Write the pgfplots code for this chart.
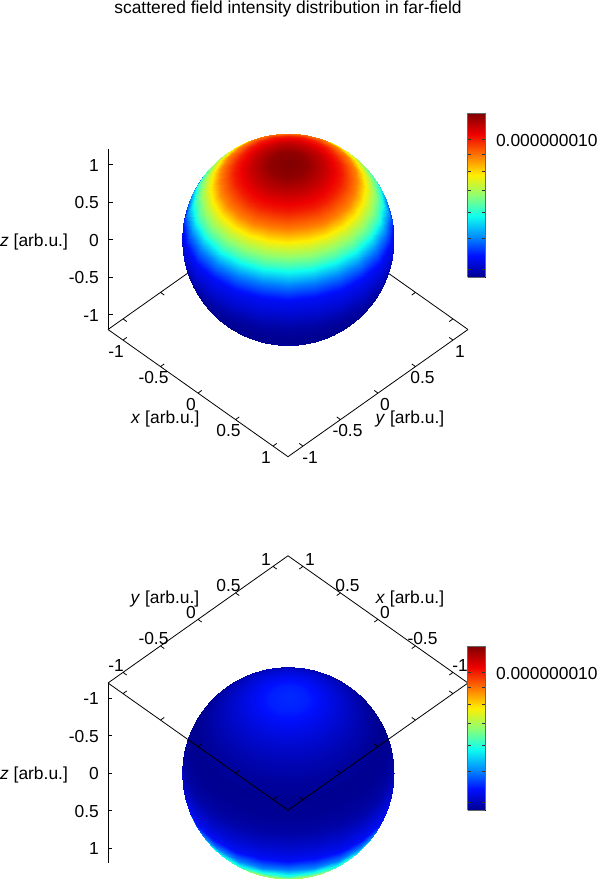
\documentclass[border=0pt]{standalone}
\usepackage{fontspec}
\setmainfont{Liberation Sans}
\usepackage{pgfplots}
\usepackage{pgfplotstable}
\pgfplotsset{compat=1.18}
\pgfplotsset{colormap={gjet}{rgb255=(0,0,144) rgb255=(0,15,255) rgb255=(0,144,255) rgb255=(15,255,238) rgb255=(144,255,112) rgb255=(255,238,0) rgb255=(255,112,0) rgb255=(238,0,0) rgb255=(127,0,0)}}
\newcommand{\lab}{\fontsize{17.4}{20}\selectfont}

% unit sphere, rings of polar angle 0,10,...,180 and 25 points each; l = log10(intensity)
\pgfplotstableread{
x y z l
0 0 1 -7.92
0 0 1 -7.92
0 0 1 -7.92
0 0 1 -7.92
0 0 1 -7.92
0 0 1 -7.92
0 0 1 -7.92
0 0 1 -7.92
0 0 1 -7.92
0 0 1 -7.92
0 0 1 -7.92
0 0 1 -7.92
0 0 1 -7.92
0 0 1 -7.92
0 0 1 -7.92
0 0 1 -7.92
0 0 1 -7.92
0 0 1 -7.92
0 0 1 -7.92
0 0 1 -7.92
0 0 1 -7.92
0 0 1 -7.92
0 0 1 -7.92
0 0 1 -7.92
0 0 1 -7.92
0.174 0 0.985 -7.93
0.168 0.045 0.985 -7.93
0.150 0.087 0.985 -7.93
0.123 0.123 0.985 -7.93
0.087 0.150 0.985 -7.93
0.045 0.168 0.985 -7.93
0 0.174 0.985 -7.93
-0.045 0.168 0.985 -7.93
-0.087 0.150 0.985 -7.93
-0.123 0.123 0.985 -7.93
-0.150 0.087 0.985 -7.93
-0.168 0.045 0.985 -7.93
-0.174 0 0.985 -7.93
-0.168 -0.045 0.985 -7.93
-0.150 -0.087 0.985 -7.93
-0.123 -0.123 0.985 -7.93
-0.087 -0.150 0.985 -7.93
-0.045 -0.168 0.985 -7.93
0 -0.174 0.985 -7.93
0.045 -0.168 0.985 -7.93
0.087 -0.150 0.985 -7.93
0.123 -0.123 0.985 -7.93
0.150 -0.087 0.985 -7.93
0.168 -0.045 0.985 -7.93
0.174 0 0.985 -7.93
0.342 0 0.940 -7.96
0.330 0.089 0.940 -7.96
0.296 0.171 0.940 -7.96
0.242 0.242 0.940 -7.96
0.171 0.296 0.940 -7.96
0.089 0.330 0.940 -7.96
0 0.342 0.940 -7.96
-0.089 0.330 0.940 -7.96
-0.171 0.296 0.940 -7.96
-0.242 0.242 0.940 -7.96
-0.296 0.171 0.940 -7.96
-0.330 0.089 0.940 -7.96
-0.342 0 0.940 -7.96
-0.330 -0.089 0.940 -7.96
-0.296 -0.171 0.940 -7.96
-0.242 -0.242 0.940 -7.96
-0.171 -0.296 0.940 -7.96
-0.089 -0.330 0.940 -7.96
0 -0.342 0.940 -7.96
0.089 -0.330 0.940 -7.96
0.171 -0.296 0.940 -7.96
0.242 -0.242 0.940 -7.96
0.296 -0.171 0.940 -7.96
0.330 -0.089 0.940 -7.96
0.342 0 0.940 -7.96
0.500 0 0.866 -7.998
0.483 0.129 0.866 -7.998
0.433 0.250 0.866 -7.998
0.354 0.354 0.866 -7.998
0.250 0.433 0.866 -7.998
0.129 0.483 0.866 -7.998
0 0.500 0.866 -7.998
-0.129 0.483 0.866 -7.998
-0.250 0.433 0.866 -7.998
-0.354 0.354 0.866 -7.998
-0.433 0.250 0.866 -7.998
-0.483 0.129 0.866 -7.998
-0.500 0 0.866 -7.998
-0.483 -0.129 0.866 -7.998
-0.433 -0.250 0.866 -7.998
-0.354 -0.354 0.866 -7.998
-0.250 -0.433 0.866 -7.998
-0.129 -0.483 0.866 -7.998
0 -0.500 0.866 -7.998
0.129 -0.483 0.866 -7.998
0.250 -0.433 0.866 -7.998
0.354 -0.354 0.866 -7.998
0.433 -0.250 0.866 -7.998
0.483 -0.129 0.866 -7.998
0.500 0 0.866 -7.998
0.643 0 0.766 -8.055
0.621 0.166 0.766 -8.055
0.557 0.321 0.766 -8.055
0.455 0.455 0.766 -8.055
0.321 0.557 0.766 -8.055
0.166 0.621 0.766 -8.055
0 0.643 0.766 -8.055
-0.166 0.621 0.766 -8.055
-0.321 0.557 0.766 -8.055
-0.455 0.455 0.766 -8.055
-0.557 0.321 0.766 -8.055
-0.621 0.166 0.766 -8.055
-0.643 0 0.766 -8.055
-0.621 -0.166 0.766 -8.055
-0.557 -0.321 0.766 -8.055
-0.455 -0.455 0.766 -8.055
-0.321 -0.557 0.766 -8.055
-0.166 -0.621 0.766 -8.055
0 -0.643 0.766 -8.055
0.166 -0.621 0.766 -8.055
0.321 -0.557 0.766 -8.055
0.455 -0.455 0.766 -8.055
0.557 -0.321 0.766 -8.055
0.621 -0.166 0.766 -8.055
0.643 0 0.766 -8.055
0.766 0 0.643 -8.135
0.740 0.198 0.643 -8.135
0.663 0.383 0.643 -8.135
0.542 0.542 0.643 -8.135
0.383 0.663 0.643 -8.135
0.198 0.740 0.643 -8.135
0 0.766 0.643 -8.135
-0.198 0.740 0.643 -8.135
-0.383 0.663 0.643 -8.135
-0.542 0.542 0.643 -8.135
-0.663 0.383 0.643 -8.135
-0.740 0.198 0.643 -8.135
-0.766 0 0.643 -8.135
-0.740 -0.198 0.643 -8.135
-0.663 -0.383 0.643 -8.135
-0.542 -0.542 0.643 -8.135
-0.383 -0.663 0.643 -8.135
-0.198 -0.740 0.643 -8.135
0 -0.766 0.643 -8.135
0.198 -0.740 0.643 -8.135
0.383 -0.663 0.643 -8.135
0.542 -0.542 0.643 -8.135
0.663 -0.383 0.643 -8.135
0.740 -0.198 0.643 -8.135
0.766 0 0.643 -8.135
0.866 0 0.500 -8.21
0.837 0.224 0.500 -8.21
0.750 0.433 0.500 -8.21
0.612 0.612 0.500 -8.21
0.433 0.750 0.500 -8.21
0.224 0.837 0.500 -8.21
0 0.866 0.500 -8.21
-0.224 0.837 0.500 -8.21
-0.433 0.750 0.500 -8.21
-0.612 0.612 0.500 -8.21
-0.750 0.433 0.500 -8.21
-0.837 0.224 0.500 -8.21
-0.866 0 0.500 -8.21
-0.837 -0.224 0.500 -8.21
-0.750 -0.433 0.500 -8.21
-0.612 -0.612 0.500 -8.21
-0.433 -0.750 0.500 -8.21
-0.224 -0.837 0.500 -8.21
0 -0.866 0.500 -8.21
0.224 -0.837 0.500 -8.21
0.433 -0.750 0.500 -8.21
0.612 -0.612 0.500 -8.21
0.750 -0.433 0.500 -8.21
0.837 -0.224 0.500 -8.21
0.866 0 0.500 -8.21
0.940 0 0.342 -8.30
0.908 0.243 0.342 -8.30
0.814 0.470 0.342 -8.30
0.664 0.664 0.342 -8.30
0.470 0.814 0.342 -8.30
0.243 0.908 0.342 -8.30
0 0.940 0.342 -8.30
-0.243 0.908 0.342 -8.30
-0.470 0.814 0.342 -8.30
-0.664 0.664 0.342 -8.30
-0.814 0.470 0.342 -8.30
-0.908 0.243 0.342 -8.30
-0.940 0 0.342 -8.30
-0.908 -0.243 0.342 -8.30
-0.814 -0.470 0.342 -8.30
-0.664 -0.664 0.342 -8.30
-0.470 -0.814 0.342 -8.30
-0.243 -0.908 0.342 -8.30
0 -0.940 0.342 -8.30
0.243 -0.908 0.342 -8.30
0.470 -0.814 0.342 -8.30
0.664 -0.664 0.342 -8.30
0.814 -0.470 0.342 -8.30
0.908 -0.243 0.342 -8.30
0.940 0 0.342 -8.30
0.985 0 0.174 -8.3625
0.951 0.255 0.174 -8.3625
0.853 0.492 0.174 -8.3625
0.696 0.696 0.174 -8.3625
0.492 0.853 0.174 -8.3625
0.255 0.951 0.174 -8.3625
0 0.985 0.174 -8.3625
-0.255 0.951 0.174 -8.3625
-0.492 0.853 0.174 -8.3625
-0.696 0.696 0.174 -8.3625
-0.853 0.492 0.174 -8.3625
-0.951 0.255 0.174 -8.3625
-0.985 0 0.174 -8.3625
-0.951 -0.255 0.174 -8.3625
-0.853 -0.492 0.174 -8.3625
-0.696 -0.696 0.174 -8.3625
-0.492 -0.853 0.174 -8.3625
-0.255 -0.951 0.174 -8.3625
0 -0.985 0.174 -8.3625
0.255 -0.951 0.174 -8.3625
0.492 -0.853 0.174 -8.3625
0.696 -0.696 0.174 -8.3625
0.853 -0.492 0.174 -8.3625
0.951 -0.255 0.174 -8.3625
0.985 0 0.174 -8.3625
1 0 0 -8.385
0.966 0.259 0 -8.385
0.866 0.500 0 -8.385
0.707 0.707 0 -8.385
0.500 0.866 0 -8.385
0.259 0.966 0 -8.385
0 1 0 -8.385
-0.259 0.966 0 -8.385
-0.500 0.866 0 -8.385
-0.707 0.707 0 -8.385
-0.866 0.500 0 -8.385
-0.966 0.259 0 -8.385
-1 0 0 -8.385
-0.966 -0.259 0 -8.385
-0.866 -0.500 0 -8.385
-0.707 -0.707 0 -8.385
-0.500 -0.866 0 -8.385
-0.259 -0.966 0 -8.385
0 -1 0 -8.385
0.259 -0.966 0 -8.385
0.500 -0.866 0 -8.385
0.707 -0.707 0 -8.385
0.866 -0.500 0 -8.385
0.966 -0.259 0 -8.385
1 0 0 -8.385
0.985 0 -0.174 -8.4075
0.951 0.255 -0.174 -8.4075
0.853 0.492 -0.174 -8.4075
0.696 0.696 -0.174 -8.4075
0.492 0.853 -0.174 -8.4075
0.255 0.951 -0.174 -8.4075
0 0.985 -0.174 -8.4075
-0.255 0.951 -0.174 -8.4075
-0.492 0.853 -0.174 -8.4075
-0.696 0.696 -0.174 -8.4075
-0.853 0.492 -0.174 -8.4075
-0.951 0.255 -0.174 -8.4075
-0.985 0 -0.174 -8.4075
-0.951 -0.255 -0.174 -8.4075
-0.853 -0.492 -0.174 -8.4075
-0.696 -0.696 -0.174 -8.4075
-0.492 -0.853 -0.174 -8.4075
-0.255 -0.951 -0.174 -8.4075
0 -0.985 -0.174 -8.4075
0.255 -0.951 -0.174 -8.4075
0.492 -0.853 -0.174 -8.4075
0.696 -0.696 -0.174 -8.4075
0.853 -0.492 -0.174 -8.4075
0.951 -0.255 -0.174 -8.4075
0.985 0 -0.174 -8.4075
0.940 0 -0.342 -8.4175
0.908 0.243 -0.342 -8.4175
0.814 0.470 -0.342 -8.4175
0.664 0.664 -0.342 -8.4175
0.470 0.814 -0.342 -8.4175
0.243 0.908 -0.342 -8.4175
0 0.940 -0.342 -8.4175
-0.243 0.908 -0.342 -8.4175
-0.470 0.814 -0.342 -8.4175
-0.664 0.664 -0.342 -8.4175
-0.814 0.470 -0.342 -8.4175
-0.908 0.243 -0.342 -8.4175
-0.940 0 -0.342 -8.4175
-0.908 -0.243 -0.342 -8.4175
-0.814 -0.470 -0.342 -8.4175
-0.664 -0.664 -0.342 -8.4175
-0.470 -0.814 -0.342 -8.4175
-0.243 -0.908 -0.342 -8.4175
0 -0.940 -0.342 -8.4175
0.243 -0.908 -0.342 -8.4175
0.470 -0.814 -0.342 -8.4175
0.664 -0.664 -0.342 -8.4175
0.814 -0.470 -0.342 -8.4175
0.908 -0.243 -0.342 -8.4175
0.940 0 -0.342 -8.4175
0.866 0 -0.500 -8.42
0.837 0.224 -0.500 -8.42
0.750 0.433 -0.500 -8.42
0.612 0.612 -0.500 -8.42
0.433 0.750 -0.500 -8.42
0.224 0.837 -0.500 -8.42
0 0.866 -0.500 -8.42
-0.224 0.837 -0.500 -8.42
-0.433 0.750 -0.500 -8.42
-0.612 0.612 -0.500 -8.42
-0.750 0.433 -0.500 -8.42
-0.837 0.224 -0.500 -8.42
-0.866 0 -0.500 -8.42
-0.837 -0.224 -0.500 -8.42
-0.750 -0.433 -0.500 -8.42
-0.612 -0.612 -0.500 -8.42
-0.433 -0.750 -0.500 -8.42
-0.224 -0.837 -0.500 -8.42
0 -0.866 -0.500 -8.42
0.224 -0.837 -0.500 -8.42
0.433 -0.750 -0.500 -8.42
0.612 -0.612 -0.500 -8.42
0.750 -0.433 -0.500 -8.42
0.837 -0.224 -0.500 -8.42
0.866 0 -0.500 -8.42
0.766 0 -0.643 -8.4125
0.740 0.198 -0.643 -8.4125
0.663 0.383 -0.643 -8.4125
0.542 0.542 -0.643 -8.4125
0.383 0.663 -0.643 -8.4125
0.198 0.740 -0.643 -8.4125
0 0.766 -0.643 -8.4125
-0.198 0.740 -0.643 -8.4125
-0.383 0.663 -0.643 -8.4125
-0.542 0.542 -0.643 -8.4125
-0.663 0.383 -0.643 -8.4125
-0.740 0.198 -0.643 -8.4125
-0.766 0 -0.643 -8.4125
-0.740 -0.198 -0.643 -8.4125
-0.663 -0.383 -0.643 -8.4125
-0.542 -0.542 -0.643 -8.4125
-0.383 -0.663 -0.643 -8.4125
-0.198 -0.740 -0.643 -8.4125
0 -0.766 -0.643 -8.4125
0.198 -0.740 -0.643 -8.4125
0.383 -0.663 -0.643 -8.4125
0.542 -0.542 -0.643 -8.4125
0.663 -0.383 -0.643 -8.4125
0.740 -0.198 -0.643 -8.4125
0.766 0 -0.643 -8.4125
0.643 0 -0.766 -8.40
0.621 0.166 -0.766 -8.40
0.557 0.321 -0.766 -8.40
0.455 0.455 -0.766 -8.40
0.321 0.557 -0.766 -8.40
0.166 0.621 -0.766 -8.40
0 0.643 -0.766 -8.40
-0.166 0.621 -0.766 -8.40
-0.321 0.557 -0.766 -8.40
-0.455 0.455 -0.766 -8.40
-0.557 0.321 -0.766 -8.40
-0.621 0.166 -0.766 -8.40
-0.643 0 -0.766 -8.40
-0.621 -0.166 -0.766 -8.40
-0.557 -0.321 -0.766 -8.40
-0.455 -0.455 -0.766 -8.40
-0.321 -0.557 -0.766 -8.40
-0.166 -0.621 -0.766 -8.40
0 -0.643 -0.766 -8.40
0.166 -0.621 -0.766 -8.40
0.321 -0.557 -0.766 -8.40
0.455 -0.455 -0.766 -8.40
0.557 -0.321 -0.766 -8.40
0.621 -0.166 -0.766 -8.40
0.643 0 -0.766 -8.40
0.500 0 -0.866 -8.385
0.483 0.129 -0.866 -8.385
0.433 0.250 -0.866 -8.385
0.354 0.354 -0.866 -8.385
0.250 0.433 -0.866 -8.385
0.129 0.483 -0.866 -8.385
0 0.500 -0.866 -8.385
-0.129 0.483 -0.866 -8.385
-0.250 0.433 -0.866 -8.385
-0.354 0.354 -0.866 -8.385
-0.433 0.250 -0.866 -8.385
-0.483 0.129 -0.866 -8.385
-0.500 0 -0.866 -8.385
-0.483 -0.129 -0.866 -8.385
-0.433 -0.250 -0.866 -8.385
-0.354 -0.354 -0.866 -8.385
-0.250 -0.433 -0.866 -8.385
-0.129 -0.483 -0.866 -8.385
0 -0.500 -0.866 -8.385
0.129 -0.483 -0.866 -8.385
0.250 -0.433 -0.866 -8.385
0.354 -0.354 -0.866 -8.385
0.433 -0.250 -0.866 -8.385
0.483 -0.129 -0.866 -8.385
0.500 0 -0.866 -8.385
0.342 0 -0.940 -8.3675
0.330 0.089 -0.940 -8.3675
0.296 0.171 -0.940 -8.3675
0.242 0.242 -0.940 -8.3675
0.171 0.296 -0.940 -8.3675
0.089 0.330 -0.940 -8.3675
0 0.342 -0.940 -8.3675
-0.089 0.330 -0.940 -8.3675
-0.171 0.296 -0.940 -8.3675
-0.242 0.242 -0.940 -8.3675
-0.296 0.171 -0.940 -8.3675
-0.330 0.089 -0.940 -8.3675
-0.342 0 -0.940 -8.3675
-0.330 -0.089 -0.940 -8.3675
-0.296 -0.171 -0.940 -8.3675
-0.242 -0.242 -0.940 -8.3675
-0.171 -0.296 -0.940 -8.3675
-0.089 -0.330 -0.940 -8.3675
0 -0.342 -0.940 -8.3675
0.089 -0.330 -0.940 -8.3675
0.171 -0.296 -0.940 -8.3675
0.242 -0.242 -0.940 -8.3675
0.296 -0.171 -0.940 -8.3675
0.330 -0.089 -0.940 -8.3675
0.342 0 -0.940 -8.3675
0.174 0 -0.985 -8.35
0.168 0.045 -0.985 -8.35
0.150 0.087 -0.985 -8.35
0.123 0.123 -0.985 -8.35
0.087 0.150 -0.985 -8.35
0.045 0.168 -0.985 -8.35
0 0.174 -0.985 -8.35
-0.045 0.168 -0.985 -8.35
-0.087 0.150 -0.985 -8.35
-0.123 0.123 -0.985 -8.35
-0.150 0.087 -0.985 -8.35
-0.168 0.045 -0.985 -8.35
-0.174 0 -0.985 -8.35
-0.168 -0.045 -0.985 -8.35
-0.150 -0.087 -0.985 -8.35
-0.123 -0.123 -0.985 -8.35
-0.087 -0.150 -0.985 -8.35
-0.045 -0.168 -0.985 -8.35
0 -0.174 -0.985 -8.35
0.045 -0.168 -0.985 -8.35
0.087 -0.150 -0.985 -8.35
0.123 -0.123 -0.985 -8.35
0.150 -0.087 -0.985 -8.35
0.168 -0.045 -0.985 -8.35
0.174 0 -0.985 -8.35
0 0 -1 -8.345
0 0 -1 -8.345
0 0 -1 -8.345
0 0 -1 -8.345
0 0 -1 -8.345
0 0 -1 -8.345
0 0 -1 -8.345
0 0 -1 -8.345
0 0 -1 -8.345
0 0 -1 -8.345
0 0 -1 -8.345
0 0 -1 -8.345
0 0 -1 -8.345
0 0 -1 -8.345
0 0 -1 -8.345
0 0 -1 -8.345
0 0 -1 -8.345
0 0 -1 -8.345
0 0 -1 -8.345
0 0 -1 -8.345
0 0 -1 -8.345
0 0 -1 -8.345
0 0 -1 -8.345
0 0 -1 -8.345
0 0 -1 -8.345
}\sphere

% floor edges with their ticks
\pgfplotstableread{
x y z
-1.2 -1.2 -1.2
1.2 -1.2 -1.2
nan nan nan
-1 -1.2 -1.2
-1 -1.15 -1.2
nan nan nan
-0.5 -1.2 -1.2
-0.5 -1.15 -1.2
nan nan nan
0 -1.2 -1.2
0 -1.15 -1.2
nan nan nan
0.5 -1.2 -1.2
0.5 -1.15 -1.2
nan nan nan
1 -1.2 -1.2
1 -1.15 -1.2
}\edgeYlo
\pgfplotstableread{
x y z
-1.2 1.2 -1.2
1.2 1.2 -1.2
nan nan nan
-1 1.2 -1.2
-1 1.15 -1.2
nan nan nan
-0.5 1.2 -1.2
-0.5 1.15 -1.2
nan nan nan
0 1.2 -1.2
0 1.15 -1.2
nan nan nan
0.5 1.2 -1.2
0.5 1.15 -1.2
nan nan nan
1 1.2 -1.2
1 1.15 -1.2
}\edgeYhi
\pgfplotstableread{
x y z
-1.2 -1.2 -1.2
-1.2 1.2 -1.2
nan nan nan
-1.2 -1 -1.2
-1.15 -1 -1.2
nan nan nan
-1.2 -0.5 -1.2
-1.15 -0.5 -1.2
nan nan nan
-1.2 0 -1.2
-1.15 0 -1.2
nan nan nan
-1.2 0.5 -1.2
-1.15 0.5 -1.2
nan nan nan
-1.2 1 -1.2
-1.15 1 -1.2
}\edgeXlo
\pgfplotstableread{
x y z
1.2 -1.2 -1.2
1.2 1.2 -1.2
nan nan nan
1.2 -1 -1.2
1.15 -1 -1.2
nan nan nan
1.2 -0.5 -1.2
1.15 -0.5 -1.2
nan nan nan
1.2 0 -1.2
1.15 0 -1.2
nan nan nan
1.2 0.5 -1.2
1.15 0.5 -1.2
nan nan nan
1.2 1 -1.2
1.15 1 -1.2
}\edgeXhi

% colour box: intensity against log10 of it
\pgfplotstableread{
x y z l
0 3.8e-9 0 -8.42
1 3.8e-9 0 -8.42
0 4.39e-9 0 -8.3575
1 4.39e-9 0 -8.3575
0 5.07e-9 0 -8.295
1 5.07e-9 0 -8.295
0 5.85e-9 0 -8.2325
1 5.85e-9 0 -8.2325
0 6.76e-9 0 -8.17
1 6.76e-9 0 -8.17
0 7.80e-9 0 -8.1075
1 7.80e-9 0 -8.1075
0 9.01e-9 0 -8.045
1 9.01e-9 0 -8.045
0 1.04e-8 0 -7.9825
1 1.04e-8 0 -7.9825
0 1.2e-8 0 -7.92
1 1.2e-8 0 -7.92
}\boxdata

\pgfplotsset{
  spherestyle/.style={
    anchor=origin, clip=false, colormap name=gjet,
    xmin=-1.2, xmax=1.2, ymin=-1.2, ymax=1.2, zmin=-1.2, zmax=1.2,
    xtick={-1,-0.5,0,0.5,1}, ytick={-1,-0.5,0,0.5,1}, ztick={-1,-0.5,0,0.5,1},
    axis line style={draw=none}, major tick length=0pt, minor tick num=0,
    tick style={draw=none},
    /pgf/number format/assume math mode=true,
    tick label style={font=\lab, inner sep=0pt, anchor=center},
    point meta min=-8.42, point meta max=-7.92,
  },
  edgeline/.style={black, line width=0.8pt, no marks, unbounded coords=jump, forget plot},
  ball/.style={surf, shader=interp, z buffer=sort, mesh/rows=19, mesh/cols=25, point meta=\thisrow{l}},
  keybox/.style={
    scale only axis, width=17.6pt, height=163.7pt, anchor=south west, clip=false,
    colormap name=gjet, xmin=0, xmax=1, ymin=3.8e-9, ymax=1.2e-8,
    view={0}{90}, xtick=\empty, ytick={1e-8}, yticklabels={0.000000010},
    minor ytick={4e-9,5e-9,6e-9,7e-9,8e-9,9e-9},
    ytick pos=both, yticklabel pos=right, tick align=inside, major tick length=3.5pt, minor tick length=3.5pt,
    tick style={black!80, line width=0.5pt}, axis line style={black!60, line width=0.8pt},
    yticklabel style={font=\lab, inner sep=0pt, anchor=west, xshift=10.5pt, yshift=-1pt},
    point meta min=-8.42, point meta max=-7.92, axis on top,
  },
}

\begin{document}
\begin{tikzpicture}[x=1pt,y=1pt]
\path[use as bounding box] (0,0) rectangle (600,879);
\node[font=\lab, anchor=base] at (288,865.7) {scattered field intensity distribution in far-field};

% upper view
\begin{axis}[spherestyle, at={(288pt,639.5pt)},
  x={(75pt,-53pt)}, y={(75pt,53pt)}, z={(0pt,75pt)},
  xticklabel style={xshift=-7pt,yshift=-11pt},
  yticklabel style={xshift=7pt,yshift=-11pt},
  zticklabel style={anchor=east,xshift=-9pt,yshift=-1pt}]
\addplot3[edgeline] table {\edgeXlo};
\addplot3[edgeline] table {\edgeXhi};
\addplot3[edgeline] table {\edgeYlo};
\addplot3[edgeline] table {\edgeYhi};
\addplot3[edgeline] coordinates {(-1.2,-1.2,-1.2)(-1.2,-1.2,1.2)(nan,nan,nan)(-1.2,-1.2,-1)(-1.17,-1.17,-1)(nan,nan,nan)(-1.2,-1.2,-0.5)(-1.17,-1.17,-0.5)(nan,nan,nan)(-1.2,-1.2,0)(-1.17,-1.17,0)(nan,nan,nan)(-1.2,-1.2,0.5)(-1.17,-1.17,0.5)(nan,nan,nan)(-1.2,-1.2,1)(-1.17,-1.17,1)};
\end{axis}
% the mesh is drawn a little large and clipped, so that its outline is a true circle
\begin{scope}
\clip (288,639.5) circle[radius=106];
\begin{axis}[spherestyle, hide axis, at={(288pt,639.5pt)},
  x={(75.9pt,-53.64pt)}, y={(75.9pt,53.64pt)}, z={(0pt,75.9pt)}]
\addplot3[ball] table {\sphere};
\end{axis}
\end{scope}
\begin{axis}[keybox, ymode=log, at={(467.7pt,602pt)}]
\addplot3[surf, shader=interp, mesh/rows=9, mesh/cols=2, point meta=\thisrow{l}] table {\boxdata};
\end{axis}
\node[font=\lab] at (165.3,460) {\emph{x} [arb.u.]};
\node[font=\lab] at (410,460) {\emph{y} [arb.u.]};
\node[font=\lab] at (34,636.5) {\emph{z} [arb.u.]};

% lower view, seen from below
\begin{axis}[spherestyle, at={(288pt,106pt)},
  x={(-75pt,53pt)}, y={(75pt,53pt)}, z={(0pt,-75pt)},
  xticklabel pos=upper, yticklabel pos=upper,
  xticklabel style={xshift=7pt,yshift=7pt},
  yticklabel style={xshift=-7pt,yshift=7pt},
  zticklabel style={anchor=east,xshift=-9pt,yshift=-1pt}]
\addplot3[edgeline] table {\edgeYhi};
\addplot3[edgeline] table {\edgeXhi};
\addplot3[edgeline] coordinates {(1.2,-1.2,-1.2)(1.2,-1.2,1.2)(nan,nan,nan)(1.2,-1.2,-1)(1.17,-1.17,-1)(nan,nan,nan)(1.2,-1.2,-0.5)(1.17,-1.17,-0.5)(nan,nan,nan)(1.2,-1.2,0)(1.17,-1.17,0)(nan,nan,nan)(1.2,-1.2,0.5)(1.17,-1.17,0.5)(nan,nan,nan)(1.2,-1.2,1)(1.17,-1.17,1)};
\end{axis}
\begin{scope}
\clip (288,106) circle[radius=106];
\begin{axis}[spherestyle, hide axis, at={(288pt,106pt)},
  x={(-75.9pt,53.64pt)}, y={(75.9pt,53.64pt)}, z={(0pt,-75.9pt)}]
\addplot3[ball] table {\sphere};
\end{axis}
\end{scope}
\begin{axis}[spherestyle, hide axis, at={(288pt,106pt)},
  x={(-75pt,53pt)}, y={(75pt,53pt)}, z={(0pt,-75pt)}]
\addplot3[edgeline] table {\edgeYlo};
\addplot3[edgeline] table {\edgeXlo};
\end{axis}
\begin{axis}[keybox, ymode=log, at={(467.7pt,69pt)}]
\addplot3[surf, shader=interp, mesh/rows=9, mesh/cols=2, point meta=\thisrow{l}] table {\boxdata};
\end{axis}
\node[font=\lab] at (165,280) {\emph{y} [arb.u.]};
\node[font=\lab] at (410,280) {\emph{x} [arb.u.]};
\node[font=\lab] at (34,104) {\emph{z} [arb.u.]};
\end{tikzpicture}
\end{document}
